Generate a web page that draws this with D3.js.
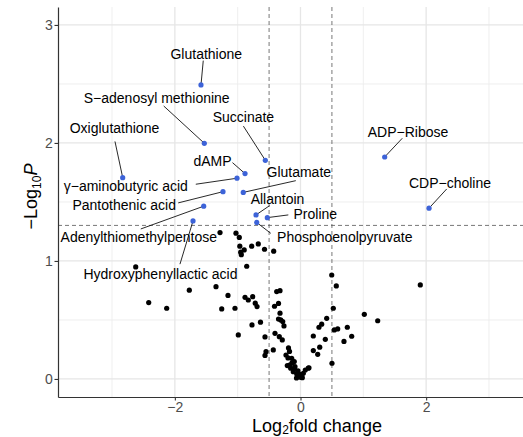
<!DOCTYPE html>
<html><head><meta charset="utf-8">
<script src="https://cdn.jsdelivr.net/npm/d3@7"></script>
<style>
body{margin:0;background:#fff}
text{font-family:"Liberation Sans",Arial,Helvetica,sans-serif}
</style>
</head><body>
<svg id="chart" width="523" height="437"></svg>
<script>
// ---- data (log2 fold change, -log10 P) ----
const bgX = [-2.623,-2.416,-2.130,-1.770,-1.345,-1.154,-1.254,-1.043,-0.990,-0.883,-0.831,-0.761,-0.720,-0.692,-0.772,-0.637,-0.565,
  -1.281,-1.027,-0.974,-0.966,-0.896,-0.952,-0.942,-0.777,-0.672,-0.573,-0.427,-0.856,-0.379,-0.326,-0.350,-0.414,-0.326,-0.350,
  -0.315,-0.283,-0.263,-0.406,-0.337,-0.290,-0.433,-0.549,-0.565,-0.191,-0.175,-0.231,-0.140,-0.099,-0.210,-0.156,-0.088,-0.115,
  -0.060,-0.035,0.003,0.045,0.076,0.135,0.204,0.294,0.337,0.417,0.395,0.306,0.204,0.274,0.497,0.570,0.522,0.538,0.592,0.501,
  0.745,0.815,0.692,1.016,1.229,1.907,-0.135,-0.040,0.029,-0.064,-0.167,-0.096,-0.016,0.124,-0.199];
const bgY = [0.949,0.647,0.599,0.752,0.782,0.708,0.593,0.599,0.373,0.692,0.669,0.697,0.642,0.613,0.458,0.481,0.356,
  1.240,1.235,1.199,1.125,1.093,1.074,1.053,1.125,1.144,1.099,1.083,0.955,0.740,0.748,0.640,0.616,0.557,0.508,
  0.500,0.487,0.449,0.387,0.358,0.331,0.246,0.231,0.199,0.263,0.233,0.203,0.175,0.147,0.113,0.091,0.104,0.062,
  0.042,0.019,0.014,0.048,0.076,0.095,0.364,0.438,0.464,0.514,0.336,0.269,0.240,0.209,0.881,0.788,0.599,0.415,0.424,0.133,
  0.438,0.362,0.318,0.548,0.493,0.797,0.136,0.068,0.011,0.008,0.119,0.085,0.038,0.091,0.178];

const sigNames = ["Glutathione","S\u2212adenosyl methionine","Oxiglutathione","dAMP","\u03b3\u2212aminobutyric acid",
  "Pantothenic acid","Adenylthiomethylpentose","Hydroxyphenyllactic acid","Succinate","Glutamate","Allantoin",
  "Proline","Phosphoenolpyruvate","ADP\u2212Ribose","CDP\u2212choline"];
const sigX = [-1.584,-1.531,-2.830,-0.883,-1.011,-1.234,-1.541,-1.711,-0.560,-0.911,-0.708,-0.528,-0.697,1.340,2.046];
const sigY = [2.492,1.997,1.706,1.740,1.701,1.587,1.464,1.339,1.853,1.581,1.390,1.367,1.326,1.881,1.447];

// repelled label centres (data units)
const labelX = [-1.50,-2.289,-2.961,-1.401,-2.781,-2.806,-2.574,-2.229,-0.909,-0.027,-0.366,0.236,0.705,1.711,2.380];
const labelY = [2.757,2.381,2.127,1.850,1.633,1.475,1.199,0.888,2.223,1.754,1.525,1.396,1.200,2.093,1.661];
// where each connector leaves its label (px offset from label centre)
const segOffset = [[-3,7],[7,8],[0.5,13.5],[20,2],[70,-2],[54,-2],[2,-8.5],[19.5,-10],[0,9.5],[-3,8.7],[-8,6.7],[-27,0.7],[-74,-4],[-5.7,6.3],[-3.3,6]];

const xTicks = [-2,0,2], xMinor = [-3,-1,1,3];
const yTicks = [0,1,2,3], yMinor = [0.5,1.5,2.5];
const fcCut = [-0.5,0.5];
const pCut = -Math.log10(0.05);

// ---- drawing ----
const svg = d3.select("#chart");
const L = 58, T = 7, B = 397, R = 543;
const x = d3.scaleLinear().domain([-3.86,3.86]).range([L,R]);
const y = d3.scaleLinear().domain([-0.153,3.152]).range([B,T]);

const grid = svg.append("g");
grid.selectAll(".vmin").data(xMinor).join("line").attr("x1",d=>x(d)).attr("x2",d=>x(d)).attr("y1",T).attr("y2",B)
  .attr("stroke","#ececec").attr("stroke-width",0.9);
grid.selectAll(".hmin").data(yMinor).join("line").attr("y1",d=>y(d)).attr("y2",d=>y(d)).attr("x1",L).attr("x2",R)
  .attr("stroke","#ececec").attr("stroke-width",0.9);
grid.selectAll(".vmaj").data(xTicks).join("line").attr("x1",d=>x(d)).attr("x2",d=>x(d)).attr("y1",T).attr("y2",B)
  .attr("stroke","#e6e6e6").attr("stroke-width",1.3);
grid.selectAll(".hmaj").data(yTicks).join("line").attr("y1",d=>y(d)).attr("y2",d=>y(d)).attr("x1",L).attr("x2",R)
  .attr("stroke","#e6e6e6").attr("stroke-width",1.3);

// threshold lines
svg.selectAll(".fc").data(fcCut).join("line").attr("x1",d=>x(d)).attr("x2",d=>x(d)).attr("y1",T).attr("y2",B)
  .attr("stroke","#555").attr("stroke-width",0.8).attr("stroke-dasharray","4,3");
svg.append("line").attr("x1",L).attr("x2",R).attr("y1",y(pCut)).attr("y2",y(pCut))
  .attr("stroke","#555").attr("stroke-width",0.8).attr("stroke-dasharray","4,3");

// axes
const fmt = d3.format("d");
const xAxis = svg.append("g").attr("transform",`translate(0,${B})`)
  .call(d3.axisBottom(x).tickValues(xTicks).tickFormat(d=>fmt(d)).tickSize(3.5).tickPadding(2).tickSizeOuter(0));
const yAxis = svg.append("g").attr("transform",`translate(${L},0)`)
  .call(d3.axisLeft(y).tickValues(yTicks).tickFormat(d=>fmt(d)).tickSize(3.5).tickPadding(1.8).tickSizeOuter(0));
[xAxis,yAxis].forEach(a=>{
  a.select(".domain").attr("stroke","#333").attr("stroke-width",1.2);
  a.selectAll(".tick line").attr("stroke","#333").attr("stroke-width",1.1);
  a.selectAll(".tick text").attr("fill","#4d4d4d").attr("font-size",14)
    .attr("font-family","'Liberation Sans',Arial,sans-serif");
});

// background points
svg.append("g").selectAll("circle").data(bgX.map((d,i)=>[d,bgY[i]])).join("circle")
  .attr("cx",d=>x(d[0])).attr("cy",d=>y(d[1])).attr("r",2.6).attr("fill","#000");

// labels + connectors
const lab = sigNames.map((n,i)=>({n, px:x(sigX[i]), py:y(sigY[i]), lx:x(labelX[i]), ly:y(labelY[i]), o:segOffset[i]}));
svg.append("g").selectAll("line").data(lab).join("line")
  .attr("x1",d=>d.lx+d.o[0]).attr("y1",d=>d.ly+d.o[1]).attr("x2",d=>d.px).attr("y2",d=>d.py)
  .attr("stroke","#111").attr("stroke-width",0.9);
svg.append("g").selectAll("circle").data(lab).join("circle")
  .attr("cx",d=>d.px).attr("cy",d=>d.py).attr("r",2.6).attr("fill","#3d63d8");
svg.append("g").selectAll("text").data(lab).join("text")
  .attr("x",d=>d.lx).attr("y",d=>d.ly).attr("dy","0.36em").attr("text-anchor","middle")
  .attr("font-size",14).attr("fill","#000").text(d=>d.n);

// axis titles
const xt = svg.append("text").attr("x",317).attr("y",431.5).attr("text-anchor","middle").attr("font-size",18).attr("fill","#000");
xt.append("tspan").text("Log");
xt.append("tspan").attr("font-size",12).attr("dy",2).text("2");
xt.append("tspan").attr("dy",-2).text("fold change");

const yt = svg.append("text").attr("transform","translate(37,196.5) rotate(-90)").attr("text-anchor","middle")
  .attr("font-size",18).attr("fill","#000");
yt.append("tspan").text("\u2212Log");
yt.append("tspan").attr("font-size",12).attr("dy",4).text("10");
yt.append("tspan").attr("dy",-4).attr("font-style","italic").text("P");
</script>
</body></html>
